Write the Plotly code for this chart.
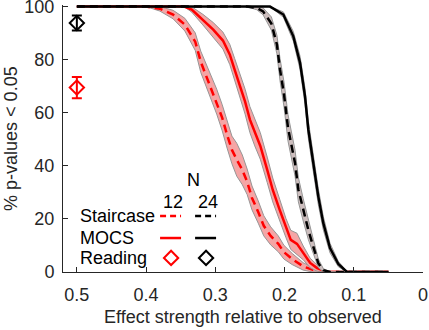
import plotly.graph_objects as go

# effect strength (x) and % p-values < 0.05 (y), with CI half-widths
stair12_x = [0.50, 0.40, 0.38, 0.361, 0.344, 0.329, 0.321, 0.312, 0.305, 0.298, 0.290, 0.283, 0.276,
             0.269, 0.261, 0.254, 0.247, 0.238, 0.230, 0.220, 0.209, 0.201, 0.189, 0.173, 0.159,
             0.144, 0.127, 0.05]
stair12_y = [100, 100, 99.2, 97.0, 93.2, 86.8, 79.2, 73.2, 68.7, 64.2, 58.1, 51.7, 46.0,
             42.3, 38.5, 34.0, 27.9, 22.6, 17.4, 13.6, 10.6, 7.5, 4.9, 2.1, 0.8,
             0.1, 0, 0]
stair12_ci = [0, 0, 0.9, 1.6, 2.4, 3.3, 4.0, 4.4, 4.6, 4.7, 4.9, 5.0, 5.2,
              6.2, 5.6, 4.8, 4.5, 4.2, 3.8, 3.4, 3.0, 2.6, 2.1, 1.4, 0.9,
              0.3, 0, 0]

mocs12_x = [0.50, 0.345, 0.334, 0.318, 0.303, 0.289, 0.279, 0.272, 0.264, 0.257, 0.250, 0.243,
            0.235, 0.225, 0.217, 0.207, 0.198, 0.191, 0.182, 0.173, 0.163, 0.153, 0.139, 0.12, 0.05]
mocs12_y = [100, 100, 98.9, 95.1, 91.3, 87.2, 81.9, 76.2, 69.8, 64.2, 57.4, 52.5,
            47.5, 38.5, 30.9, 23.4, 16.6, 12.1, 10.6, 7.2, 3.4, 1.5, 0.1, 0, 0]
mocs12_ci = [0, 0, 1.0, 2.0, 2.7, 3.2, 3.8, 4.2, 4.5, 4.7, 4.9, 5.0,
             5.0, 4.8, 4.5, 4.0, 3.6, 3.6, 4.0, 2.6, 1.8, 1.2, 0.3, 0, 0]

stair24_x = [0.50, 0.255, 0.240, 0.231, 0.219, 0.211, 0.2065, 0.2007, 0.195, 0.1848, 0.180,
             0.173, 0.1656, 0.1584, 0.1512, 0.144, 0.134, 0.05]
stair24_y = [100, 100, 99.5, 98.2, 93.6, 85.7, 76.2, 66.8, 54.3, 41.0, 31.0,
             23.4, 15.8, 9.5, 3.3, 0.7, 0, 0]
stair24_ci = [0, 0, 0.7, 1.3, 2.5, 3.5, 4.2, 4.7, 5.0, 4.9, 4.6,
              4.2, 3.6, 2.8, 1.6, 0.6, 0, 0]

mocs24_x = [0.50, 0.221, 0.2017, 0.1873, 0.1776, 0.1704, 0.1656, 0.1584, 0.1512, 0.144, 0.1343,
            0.1223, 0.1102, 0.05]
mocs24_y = [100, 100, 97.0, 88.8, 78.8, 66.2, 53.6, 41.0, 28.4, 18.4, 9.0, 3.0, 0.1, 0]
mocs24_ci = [0, 0, 1.0, 1.8, 2.5, 3.0, 3.2, 3.2, 3.0, 2.5, 1.8, 1.0, 0.2, 0]

reading_x = [0.5, 0.5]
reading_y = [69.5, 93.8]
reading_err = [4.0, 2.8]
reading_colors = ["#ff0000", "#000000"]

x_ticks = [0.5, 0.4, 0.3, 0.2, 0.1, 0]
x_ticktext = ["0.5", "0.4", "0.3", "0.2", "0.1", "0"]
y_ticks = [0, 20, 40, 60, 80, 100]

FONT = "Arial, 'Liberation Sans', sans-serif"
AXIS = "#262626"

fig = go.Figure()


def add_curve(xs, ys, ci, color, dash, band_fill):
    hi = [min(100, y + c) for y, c in zip(ys, ci)]
    lo = [max(0, y - c) for y, c in zip(ys, ci)]
    fig.add_trace(go.Scatter(
        x=xs + xs[::-1], y=hi + lo[::-1], fill="toself", fillcolor=band_fill,
        line=dict(color="rgb(150,150,150)", width=1), mode="lines", hoverinfo="skip",
    ))
    fig.add_trace(go.Scatter(
        x=xs, y=ys, mode="lines", line=dict(color=color, width=2.5, dash=dash),
    ))


add_curve(stair12_x, stair12_y, stair12_ci, "#ff0000", "8px,5px", "rgb(245,165,165)")
add_curve(mocs12_x, mocs12_y, mocs12_ci, "#ff0000", "solid", "rgb(245,165,165)")
add_curve(stair24_x, stair24_y, stair24_ci, "#000000", "8px,5px", "rgb(205,190,190)")
add_curve(mocs24_x, mocs24_y, mocs24_ci, "#000000", "solid", "rgb(205,190,190)")

for xv, yv, err, col in zip(reading_x, reading_y, reading_err, reading_colors):
    fig.add_trace(go.Scatter(
        x=[xv], y=[yv], mode="markers", cliponaxis=False,
        marker=dict(symbol="diamond-open", size=11, color=col, line=dict(width=2, color=col)),
        error_y=dict(type="data", array=[err], color=col, thickness=2, width=5),
    ))

# hand-made legend block (data coordinates)
fig.add_trace(go.Scatter(
    x=[0.3639, 0.3134], y=[5.3, 5.3], mode="markers",
    marker=dict(symbol="diamond-open", size=11, color=["#ff0000", "#000000"],
                line=dict(width=2, color=["#ff0000", "#000000"])),
))
for x0, x1, yy, col, dash in [
    (0.3798, 0.3495, 21.1, "#ff0000", "6px,4px"),
    (0.3292, 0.2989, 21.1, "#000000", "6px,4px"),
    (0.3798, 0.3495, 12.8, "#ff0000", "solid"),
    (0.3292, 0.2989, 12.8, "#000000", "solid"),
]:
    fig.add_shape(type="line", x0=x0, x1=x1, y0=yy, y1=yy, xref="x", yref="y",
                  line=dict(color=col, width=2.5, dash=dash))

for txt, xx, yy, anchor in [
    ("N", 0.3321, 34.7, "center"),
    ("12", 0.361, 26.4, "center"),
    ("24", 0.3105, 26.2, "center"),
    ("Staircase", 0.4982, 21.1, "left"),
    ("MOCS", 0.4982, 12.8, "left"),
    ("Reading", 0.4982, 5.3, "left"),
]:
    fig.add_annotation(x=xx, y=yy, xref="x", yref="y", text=txt, showarrow=False,
                       xanchor=anchor, yanchor="middle",
                       font=dict(family=FONT, size=18, color="#000000"))

# axis titles
fig.add_annotation(x=0.5, y=-0.168, xref="paper", yref="paper", showarrow=False,
                   text="Effect strength relative to observed", xanchor="center", yanchor="middle",
                   font=dict(family=FONT, size=18, color=AXIS))
fig.add_annotation(x=-0.146, y=0.5, xref="paper", yref="paper", showarrow=False, textangle=-90,
                   text="% p-values < 0.05", xanchor="center", yanchor="middle",
                   font=dict(family=FONT, size=18, color=AXIS))

fig.update_layout(
    width=429, height=330,
    margin=dict(l=63, r=6, t=5, b=58),
    paper_bgcolor="white", plot_bgcolor="white",
    showlegend=False, hovermode=False,
    font=dict(family=FONT, size=18, color=AXIS),
    xaxis=dict(
        range=[0.52, 0], tickvals=x_ticks, ticktext=x_ticktext, automargin=False,
        ticks="inside", ticklen=5, tickcolor=AXIS, showline=True, linecolor=AXIS, linewidth=1,
        showgrid=False, zeroline=False, ticklabelstandoff=6, ticklabeloverflow="allow",
    ),
    yaxis=dict(
        range=[0, 100.6], tickvals=y_ticks, automargin=False,
        ticks="inside", ticklen=5, tickcolor=AXIS, showline=True, linecolor=AXIS, linewidth=1,
        showgrid=False, zeroline=False, ticklabelstandoff=4, ticklabeloverflow="allow",
    ),
)

fig.write_html("out.html", config={"displayModeBar": False},
               post_script="document.body.style.margin = '0px';")
